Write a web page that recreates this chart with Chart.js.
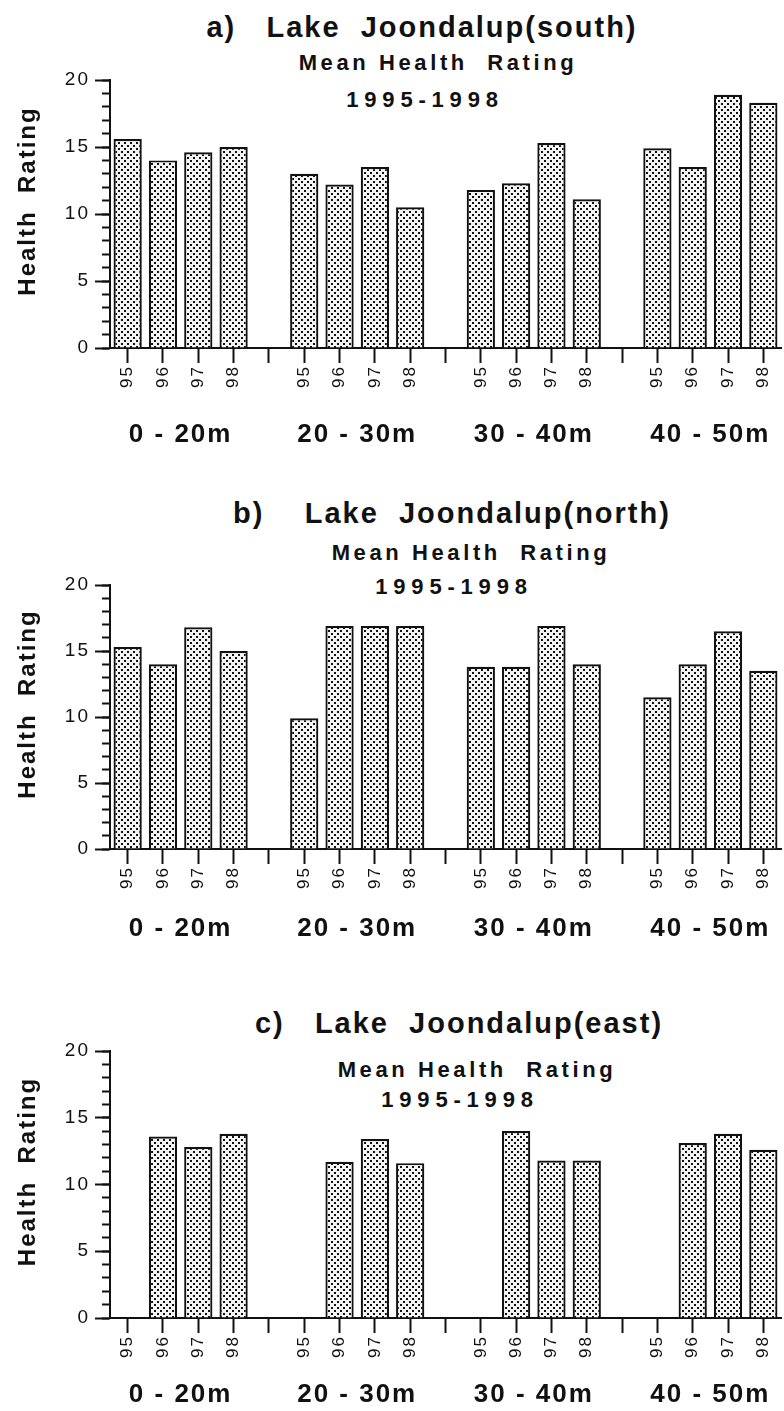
<!DOCTYPE html>
<html>
<head>
<meta charset="utf-8">
<script src="https://cdn.jsdelivr.net/npm/chart.js@4.4.1/dist/chart.umd.min.js"></script>
<style>
  body { margin: 0; background: #fff; width: 784px; height: 1411px; position: relative; overflow: hidden;
         font-family: "Liberation Sans", Arial, sans-serif; color: #111; }
  canvas { position: absolute; left: 0; }
  .ttl { position: absolute; transform: translate(-50%, -50%); white-space: pre; font-weight: bold; line-height: 1; }
  .main { font-size: 29px; letter-spacing: 2px; }
  .sub { font-size: 22px; letter-spacing: 3.6px; }
  .yrs { font-size: 22px; letter-spacing: 5.8px; }
</style>
</head>
<body>
<div class="ttl main" style="left:422px;top:27px">a)   Lake  Joondalup(south)</div>
<div class="ttl sub" style="left:438px;top:63px">Mean Health  Rating</div>
<div class="ttl yrs" style="left:425px;top:100px">1995-1998</div>
<canvas id="chartA" width="784" height="448" style="top:0px"></canvas>

<div class="ttl main" style="left:452px;top:513px">b)    Lake  Joondalup(north)</div>
<div class="ttl sub" style="left:471px;top:553px">Mean Health  Rating</div>
<div class="ttl yrs" style="left:454px;top:587px">1995-1998</div>
<canvas id="chartB" width="784" height="509" style="top:440px"></canvas>

<div class="ttl main" style="left:459px;top:1023px">c)   Lake  Joondalup(east)</div>
<div class="ttl sub" style="left:477px;top:1070px">Mean Health  Rating</div>
<div class="ttl yrs" style="left:460px;top:1100px">1995-1998</div>
<canvas id="chartC" width="784" height="478" style="top:940px"></canvas>

<script>
// years inside each distance zone, and the zones themselves
const years = ["95", "96", "97", "98"];
const zones = ["0 - 20m", "20 - 30m", "30 - 40m", "40 - 50m"];
const yTicks = [0, 5, 10, 15, 20];

// mean health rating, 4 zones x 4 years (null = no bar)
const south = [15.6, 14.0, 14.6, 15.0,  13.0, 12.2, 13.5, 10.5,  11.8, 12.3, 15.3, 11.1,  14.9, 13.5, 18.9, 18.3];
const north = [15.3, 14.0, 16.8, 15.0,   9.9, 16.9, 16.9, 16.9,  13.8, 13.8, 16.9, 14.0,  11.5, 14.0, 16.5, 13.5];
const east  = [null, 13.6, 12.8, 13.8,  null, 11.7, 13.4, 11.6,  null, 14.0, 11.8, 11.8,  null, 13.1, 13.8, 12.6];

// each zone gets 4 year slots plus an empty separator slot (with tick)
function slotLabels() {
  let out = [];
  zones.forEach((z, i) => {
    out = out.concat(years);
    if (i < zones.length - 1) out.push("");
  });
  return out;
}
function slotValues(vals) {
  let out = [];
  zones.forEach((z, i) => {
    out = out.concat(vals.slice(i * 4, i * 4 + 4));
    if (i < zones.length - 1) out.push(null);
  });
  return out;
}
// zone names on a half-slot grid (39 points from -0.5 to 18.5), centred under each group
function zoneSlots() {
  const out = new Array(39).fill("");
  zones.forEach((z, i) => { out[i * 10 + 4] = z; });
  return out;
}

function dots() {
  const c = document.createElement("canvas");
  c.width = 6; c.height = 6;
  const g = c.getContext("2d");
  g.fillStyle = "#f4f4f4";
  g.fillRect(0, 0, 6, 6);
  g.fillStyle = "#111";
  g.fillRect(1, 1, 2, 2);
  g.fillRect(4, 4, 2, 2);
  return g.createPattern(c, "repeat");
}

const spacing = {
  id: "spacing",
  beforeUpdate(c) { c.ctx.letterSpacing = "2px"; },
  beforeDraw(c) { c.ctx.letterSpacing = "2px"; },
};

// keep the plot width fixed, whatever the label overhang
function noOverhang(s, h) {
  s.height = h;
  s.paddingLeft = 0;
  s.paddingRight = 0;
}

function loadChart(canvasId, vals, padTop, zonePad) {
  const ink = "#111";
  return new Chart(document.getElementById(canvasId), {
    type: "bar",
    plugins: [spacing],
    data: {
      labels: slotLabels(),
      datasets: [{
        data: slotValues(vals),
        xAxisID: "x",
        yAxisID: "y",
        backgroundColor: dots(),
        borderColor: ink,
        borderWidth: 2.2,
        barPercentage: 0.8,
        categoryPercentage: 1.0,
      }],
    },
    options: {
      responsive: false,
      animation: false,
      events: [],
      layout: { padding: { top: padTop, right: 3, left: 0, bottom: 0 } },
      plugins: { legend: { display: false }, tooltip: { enabled: false } },
      scales: {
        x: {
          type: "category",
          weight: 0,
          offset: true,
          grid: { offset: false, drawOnChartArea: false, tickLength: 15, tickWidth: 2, tickColor: ink },
          border: { display: true, color: ink, width: 2 },
          ticks: { autoSkip: false, minRotation: 90, maxRotation: 90, padding: 2, color: ink,
                   font: { family: "Liberation Sans", size: 17 } },
          afterFit: (s) => noOverhang(s, 50),
        },
        zone: {
          type: "category",
          position: "bottom",
          weight: 1,
          labels: zoneSlots(),
          offset: false,
          bounds: "ticks",
          grid: { display: false },
          border: { display: false },
          ticks: { autoSkip: false, maxRotation: 0, padding: zonePad, color: ink,
                   font: { family: "Liberation Sans", size: 26, weight: "bold" } },
          afterFit: (s) => noOverhang(s, 50),
        },
        y: {
          position: "left",
          weight: 1,
          min: 0,
          max: 20,
          afterBuildTicks: (s) => { s.ticks = yTicks.map((v) => ({ value: v })); },
          grid: { drawOnChartArea: false, tickLength: 15, tickWidth: 2, tickColor: ink },
          border: { color: ink, width: 2 },
          ticks: { padding: 5, color: ink, font: { family: "Liberation Sans", size: 19 } },
          title: { display: true, text: "   Health  Rating", color: ink, padding: { top: 14, bottom: 0 },
                   font: { family: "Liberation Sans", size: 24, weight: "bold" } },
          afterFit: (s) => { s.width = 110; },
        },
        yMinor: {
          position: "left",
          weight: 0,
          min: 0,
          max: 20,
          ticks: { stepSize: 1, display: false },
          grid: { drawOnChartArea: false, tickLength: 8, tickWidth: 2, tickColor: ink },
          border: { display: false },
          afterFit: (s) => { s.width = 0; },
        },
      },
    },
  });
}

loadChart("chartA", south, 80, 13);
loadChart("chartB", north, 145, 6);
loadChart("chartC", east, 111, 3);
</script>
</body>
</html>
